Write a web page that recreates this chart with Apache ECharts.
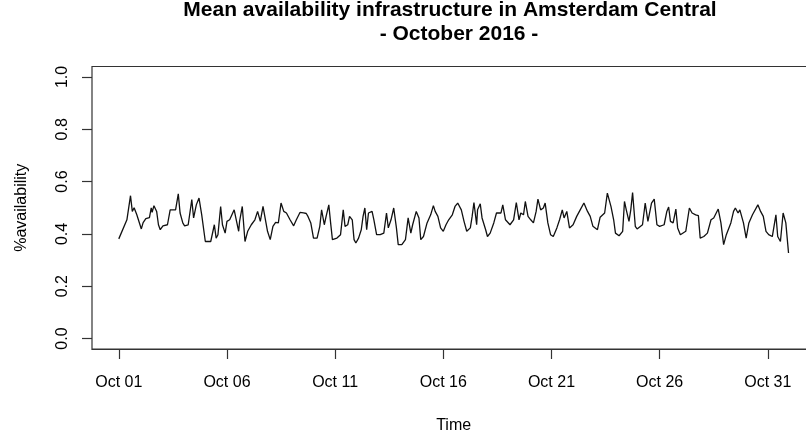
<!DOCTYPE html>
<html>
<head>
<meta charset="utf-8">
<script src="https://cdn.jsdelivr.net/npm/echarts@6/dist/echarts.min.js"></script>
<style>
  html, body { margin: 0; padding: 0; background: #fff; overflow: hidden; width: 806px; height: 439px; }
  /* the plot frame runs a little past the right edge, so the canvas is wider than the page */
  #chart { width: 830px; height: 439px; }
</style>
</head>
<body>
<div id="chart"></div>
<script>
// Hours elapsed since 2016-10-01 00:00 for each reading
const hourOffsets = [
  0, 9, 13, 15, 17, 20, 25, 27, 30, 34, 36, 37, 39, 42, 44, 46, 49, 54, 57, 59,
  63, 66, 68, 71, 73, 77, 81, 83, 86, 89, 92, 96, 98, 102, 106, 108, 110, 113, 115, 118,
  120, 123, 128, 131, 133, 134, 137, 140, 143, 147, 151, 154, 157, 160, 162, 165, 168, 171, 174, 177,
  180, 183, 186, 190, 194, 197, 201, 205, 208, 210, 213, 216, 220, 223, 225, 228, 230, 233, 235, 237,
  242, 246, 249, 251, 254, 256, 259, 261, 263, 266, 269, 271, 273, 275, 277, 281, 283, 286, 290, 294,
  297, 299, 302, 305, 308, 310, 314, 318, 321, 324, 326, 330, 333, 335, 338, 342, 346, 349, 351, 354,
  357, 360, 363, 366, 370, 373, 376, 380, 383, 386, 390, 392, 394, 397, 398, 401, 403, 407, 409, 412,
  416, 419, 421, 424, 426, 429, 431, 434, 438, 441, 444, 446, 449, 451, 454, 457, 460, 463, 465, 468,
  471, 473, 476, 479, 482, 486, 489, 492, 494, 497, 500, 504, 508, 511, 516, 520, 523, 526, 531, 534,
  539, 542, 546, 549, 551, 555, 559, 561, 563, 566, 568, 570, 573, 575, 581, 584, 587, 591, 594, 597,
  600, 605, 608, 610, 612, 615, 618, 620, 623, 629, 633, 636, 640, 643, 645, 649, 653, 657, 660, 665,
  668, 671, 674, 679, 682, 684, 687, 689, 693, 696, 699, 703, 709, 712, 715, 718, 721, 725, 729, 731,
  734, 737, 740, 743
];

// Mean share of available infrastructure at each reading
const availability = [
  0.381, 0.454, 0.546, 0.486, 0.500, 0.473, 0.419, 0.443, 0.458, 0.462, 0.500, 0.482, 0.508, 0.486, 0.435, 0.416, 0.431, 0.435, 0.492, 0.499,
  0.492, 0.553, 0.480, 0.442, 0.431, 0.435, 0.531, 0.461, 0.511, 0.537, 0.473, 0.371, 0.365, 0.371, 0.435, 0.384, 0.397, 0.505, 0.435, 0.403,
  0.448, 0.454, 0.492, 0.442, 0.410, 0.448, 0.505, 0.371, 0.410, 0.435, 0.454, 0.486, 0.448, 0.505, 0.499, 0.410, 0.378, 0.429, 0.444, 0.442,
  0.518, 0.486, 0.480, 0.454, 0.431, 0.454, 0.482, 0.480, 0.478, 0.466, 0.442, 0.384, 0.384, 0.429, 0.492, 0.435, 0.467, 0.511, 0.442, 0.378,
  0.384, 0.397, 0.492, 0.429, 0.435, 0.467, 0.454, 0.378, 0.365, 0.384, 0.416, 0.467, 0.499, 0.416, 0.480, 0.486, 0.454, 0.397, 0.397, 0.403,
  0.480, 0.423, 0.454, 0.499, 0.423, 0.359, 0.359, 0.378, 0.461, 0.403, 0.435, 0.486, 0.461, 0.378, 0.390, 0.442, 0.473, 0.508, 0.486, 0.467,
  0.423, 0.410, 0.435, 0.454, 0.473, 0.505, 0.518, 0.492, 0.448, 0.410, 0.423, 0.467, 0.520, 0.435, 0.492, 0.515, 0.461, 0.416, 0.390, 0.403,
  0.442, 0.480, 0.486, 0.480, 0.511, 0.454, 0.448, 0.435, 0.454, 0.520, 0.454, 0.480, 0.473, 0.524, 0.467, 0.454, 0.442, 0.486, 0.533, 0.492,
  0.499, 0.518, 0.442, 0.397, 0.390, 0.423, 0.454, 0.492, 0.461, 0.486, 0.423, 0.435, 0.467, 0.486, 0.518, 0.486, 0.467, 0.429, 0.416, 0.464,
  0.480, 0.556, 0.505, 0.454, 0.403, 0.393, 0.410, 0.524, 0.492, 0.448, 0.492, 0.558, 0.429, 0.419, 0.435, 0.518, 0.448, 0.518, 0.533, 0.435,
  0.429, 0.435, 0.486, 0.503, 0.448, 0.442, 0.495, 0.423, 0.397, 0.410, 0.499, 0.480, 0.473, 0.470, 0.384, 0.390, 0.403, 0.454, 0.461, 0.495,
  0.442, 0.359, 0.397, 0.442, 0.486, 0.499, 0.480, 0.492, 0.442, 0.384, 0.442, 0.473, 0.511, 0.486, 0.467, 0.410, 0.397, 0.390, 0.473, 0.390,
  0.371, 0.480, 0.442, 0.327
];

// Date ticks every five days; the y scale runs 0 to 1 in steps of 0.2
const dateTickHours = [0, 120, 240, 360, 480, 600, 720];
const dateTickLabels = ['Oct 01', 'Oct 06', 'Oct 11', 'Oct 16', 'Oct 21', 'Oct 26', 'Oct 31'];
const yTickMin = 0, yTickMax = 1, yTickStep = 0.2;

// Axis ranges padded by 4% on each side
const xSpan = hourOffsets[hourOffsets.length - 1] - hourOffsets[0];
const xMin = hourOffsets[0] - 0.04 * xSpan;
const xMax = hourOffsets[hourOffsets.length - 1] + 0.04 * xSpan;
const yPad = 0.04 * (yTickMax - yTickMin);
const yMin = yTickMin - yPad, yMax = yTickMax + yPad;
const pxPerHour = 0.9014;

// Plot frame geometry; the tick scale spans exactly 0..1 inside it
const frameLeft = 92, frameTop = 66.5, frameHeight = 282.5;
const frameWidth = (xMax - xMin) * pxPerHour;
const pxPerUnit = frameHeight / (yMax - yMin);
const tickTop = frameTop + (yMax - yTickMax) * pxPerUnit;
const tickHeight = (yTickMax - yTickMin) * pxPerUnit;
const tickLength = 10;

const FONT = '"Liberation Sans", Arial, Helvetica, sans-serif';
const INK = '#000';
const FRAME = '#333';

const chart = echarts.init(document.getElementById('chart'), null, { renderer: 'canvas' });

chart.setOption({
  animation: false,
  backgroundColor: '#fff',
  title: [
    {
      text: 'Mean availability infrastructure in Amsterdam Central',
      left: 450, top: 0, textAlign: 'center', padding: 0,
      textStyle: { fontFamily: FONT, fontSize: 21, fontWeight: 'bold', color: INK }
    },
    {
      text: '- October 2016 -',
      left: 459, top: 24, textAlign: 'center', padding: 0,
      textStyle: { fontFamily: FONT, fontSize: 21, fontWeight: 'bold', color: INK }
    }
  ],
  grid: [
    // 0: plot frame holding the series
    {
      left: frameLeft, top: frameTop, height: frameHeight, width: frameWidth,
      show: true, borderColor: FRAME, borderWidth: 1.2, backgroundColor: 'transparent',
      containLabel: false
    },
    // 1: 0..1 scale carrying the y labels and axis title
    {
      left: frameLeft, top: tickTop, height: tickHeight, width: frameWidth,
      show: false, containLabel: false
    },
    // 2: narrow strip left of the frame whose split lines form the y tick marks
    {
      left: frameLeft - tickLength, top: tickTop, height: tickHeight, width: tickLength,
      show: false, containLabel: false
    }
  ],
  xAxis: [
    {
      gridIndex: 0, type: 'value', min: xMin, max: xMax,
      name: 'Time', nameLocation: 'middle', nameGap: 69,
      nameTextStyle: { fontFamily: FONT, fontSize: 16, color: INK },
      axisLine: { show: true, onZero: false, lineStyle: { color: FRAME, width: 1.2 } },
      splitLine: { show: false },
      axisTick: {
        show: true, inside: false, length: tickLength, customValues: dateTickHours,
        lineStyle: { color: FRAME, width: 1.2 }
      },
      axisLabel: {
        show: true, margin: 26, customValues: dateTickHours,
        fontFamily: FONT, fontSize: 16, color: INK,
        formatter: (v) => dateTickLabels[dateTickHours.indexOf(Math.round(v))] || ''
      }
    },
    { gridIndex: 1, type: 'value', min: xMin, max: xMax, show: false },
    { gridIndex: 2, type: 'value', min: 0, max: 1, show: false }
  ],
  yAxis: [
    {
      gridIndex: 0, type: 'value', min: yMin, max: yMax,
      axisLine: { show: false, onZero: false },
      axisTick: { show: false },
      axisLabel: { show: false },
      splitLine: { show: false }
    },
    {
      gridIndex: 1, type: 'value', min: yTickMin, max: yTickMax, interval: yTickStep,
      name: '%availability', nameLocation: 'middle', nameGap: 62, nameRotate: 90,
      nameTextStyle: { fontFamily: FONT, fontSize: 16, color: INK },
      axisLine: { show: false, onZero: false },
      splitLine: { show: false },
      axisTick: { show: false },
      axisLabel: {
        show: true, rotate: 90, margin: 21,
        fontFamily: FONT, fontSize: 16, color: INK,
        formatter: (v) => v.toFixed(1)
      }
    },
    {
      gridIndex: 2, type: 'value', min: yTickMin, max: yTickMax, interval: yTickStep,
      axisLine: { show: false, onZero: false },
      axisTick: { show: false },
      axisLabel: { show: false },
      splitLine: { show: true, lineStyle: { color: FRAME, width: 1.2, type: 'solid' } }
    }
  ],
  series: [{
    type: 'line',
    xAxisIndex: 0, yAxisIndex: 0,
    data: hourOffsets.map((h, i) => [h, availability[i]]),
    showSymbol: false,
    lineStyle: { color: '#111', width: 1.3 },
    clip: false
  }]
});
</script>
</body>
</html>
